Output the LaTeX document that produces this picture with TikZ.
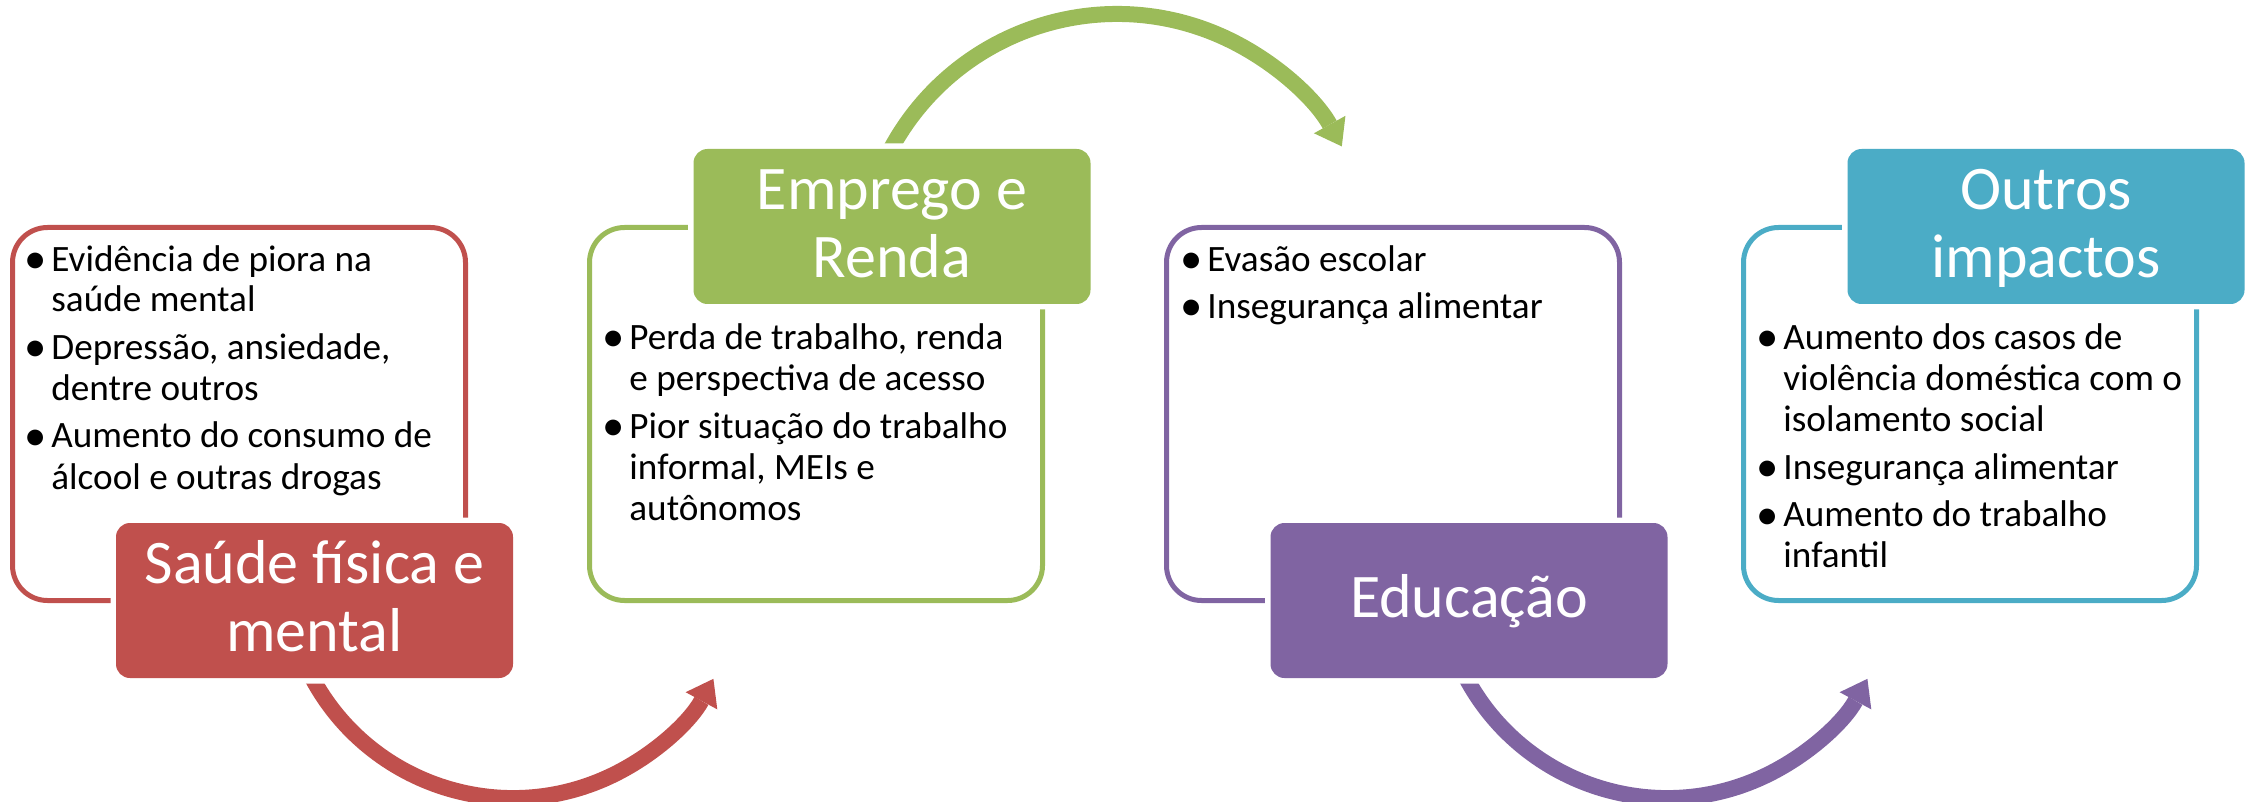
\documentclass[tikz,border=0pt]{standalone}
\usepackage{fontspec}
\usepackage{graphicx}
\setmainfont{Carlito}
\usetikzlibrary{arrows.meta}

\definecolor{saudered}{HTML}{C0504D}
\definecolor{empregogreen}{HTML}{9BBB59}
\definecolor{educpurple}{HTML}{8064A2}
\definecolor{outrosblue}{HTML}{4BACC6}

\newcommand{\hdstrut}{\rule[-7pt]{0pt}{31pt}}
\newcommand{\bul}{\hspace*{-3pt}\raisebox{-1pt}{\scalebox{1.2}{\textbullet}}}

\begin{document}
\begin{tikzpicture}[x=0.5pt, y=-0.5pt,
  frame/.style={draw=#1, line width=2.5pt, rounded corners=17.5pt,
    minimum width=226.5pt, minimum height=186.5pt, inner sep=0pt},
  header/.style={fill=#1, text=white, rounded corners=7pt,
    minimum width=198.5pt, minimum height=77.5pt, inner sep=0pt, align=center,
    font=\fontsize{31pt}{34pt}\selectfont, preaction={draw=white, line width=5.5pt}},
  itemlist/.style={anchor=base west, inner sep=0pt, font=\fontsize{18.6pt}{20.5pt}\selectfont},
  flow/.style={draw=#1, line width=8pt, -{Triangle[width=18pt, length=12.5pt, line width=0pt]}}]

\useasboundingbox (0,0) rectangle (2254,802);

% Curved arrows, they start behind the headers
\coordinate (a1) at (306.4,666.4);
\coordinate (a2) at (884.1,162.4);
\coordinate (a3) at (1460.4,666.4);
\draw [flow=saudered] (a1) arc [start angle=155, end angle=28.5, radius=228];
\draw [flow=empregogreen] (a2) arc [start angle=205, end angle=331, radius=257];
\draw [flow=educpurple] (a3) arc [start angle=155, end angle=28.5, radius=228];

% Frames
\node [frame=saudered] (fsaude) at (239,414) {};
\node [frame=empregogreen] (femprego) at (816,414) {};
\node [frame=educpurple] (feducacao) at (1393,414) {};
\node [frame=outrosblue] (foutros) at (1970,414) {};

% Bullet lists
\node [itemlist] (lsaude) at (30,271) {\begin{tabular}[t]{@{}p{10.5pt}@{}l@{}}
  \bul & Evidência de piora na\\
       & saúde mental\\[3.25pt]
  \bul & Depressão, ansiedade,\\
       & dentre outros\\[3.25pt]
  \bul & Aumento do consumo de\\
       & álcool e outras drogas
\end{tabular}};
\node [itemlist] (lemprego) at (608,350) {\begin{tabular}[t]{@{}p{10.5pt}@{}l@{}}
  \bul & Perda de trabalho, renda\\
       & e perspectiva de acesso\\[3.25pt]
  \bul & Pior situação do trabalho\\
       & informal, MEIs e\\
       & autônomos
\end{tabular}};
\node [itemlist] (leducacao) at (1186,271) {\begin{tabular}[t]{@{}p{10.5pt}@{}l@{}}
  \bul & Evasão escolar\\[3.25pt]
  \bul & Insegurança alimentar
\end{tabular}};
\node [itemlist] (loutros) at (1762,350) {\begin{tabular}[t]{@{}p{10.5pt}@{}l@{}}
  \bul & Aumento dos casos de\\
       & violência doméstica com o\\
       & isolamento social\\[3.25pt]
  \bul & Insegurança alimentar\\[3.25pt]
  \bul & Aumento do trabalho\\
       & infantil
\end{tabular}};

% Headers
\node [header=saudered] (saude) at (314.5,600.5) {\hdstrut Saúde física e\\\hdstrut mental};
\node [header=empregogreen] (emprego) at (892,226.5) {\hdstrut Emprego e\\\hdstrut Renda};
\node [header=educpurple] (educacao) at (1469,600.5) {\hdstrut Educação};
\node [header=outrosblue] (outros) at (2046,226.5) {\hdstrut Outros\\\hdstrut impactos};

\end{tikzpicture}
\end{document}
